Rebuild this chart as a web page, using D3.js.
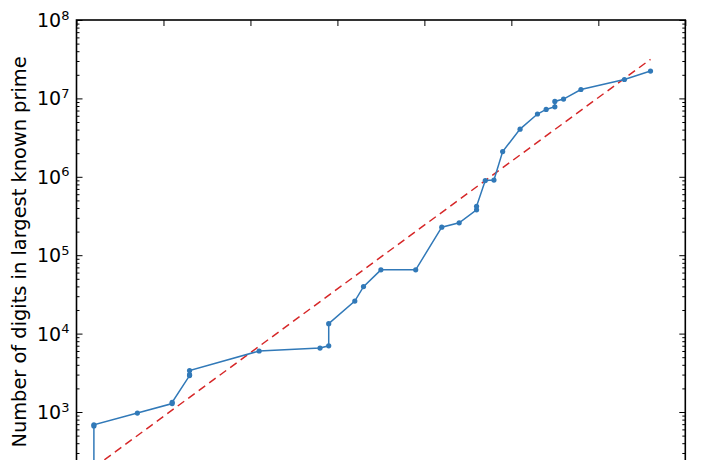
<!DOCTYPE html>
<html>
<head>
<meta charset="utf-8">
<script src="https://cdn.jsdelivr.net/npm/d3@7"></script>
<style>
html,body{margin:0;padding:0;background:#fff;overflow:hidden;}
svg{display:block;}
text{font-family:"DejaVu Sans",sans-serif;}
</style>
</head>
<body>
<script>
// Year of each record and number of digits of the largest known prime
const years = [1952,1952,1952,1952,1957,1961,1961,1963,1963,1963,1971,1978,1979,1979,
  1982,1983,1985,1989,1992,1994,1996,1996,1997,1998,1999,2001,2003,2004,2005,2005,2006,2008,2013,2016];
const digits = [157,183,664,687,969,1281,1332,2917,2993,3376,6002,6533,6987,13395,
  25962,39751,65050,65087,227832,258716,378632,420921,895932,909526,2098960,4053946,6320430,
  7235733,7816230,9152052,9808358,12978189,17425170,22338618];
// Exponential trend line (end points)
const fitYears = [1952, 2016];
const fitDigits = [196, 31500000];
const xTicks = [1950,1960,1970,1980,1990,2000,2010,2020];
const yMajor = [1e2,1e3,1e4,1e5,1e6,1e7,1e8];
const yLabels = [1e3,1e4,1e5,1e6,1e7,1e8];
const yLabel = "Number of digits in largest known prime";

(function(){
const W = 720, H = 460;
const mL = 76.5, mR = 685.3, mT = 20, mB = 490.4;

const svg = d3.select("body").append("svg").attr("width", W).attr("height", H);

const x = d3.scaleLinear().domain([1950, 2020]).range([mL, mR]);
const y = d3.scaleLog().domain([1e2, 1e8]).range([mB, mT]);

svg.append("defs").append("clipPath").attr("id","clip")
  .append("rect").attr("x",mL).attr("y",mT).attr("width",mR-mL).attr("height",mB-mT);

const yMinor = [];
for (let e = 2; e < 8; e++) for (let m = 2; m <= 9; m++) yMinor.push(m * Math.pow(10, e));

const g = svg.append("g");
const axL = d3.axisLeft(y).tickValues(yMajor).tickSize(-6).tickFormat("");
const axLm = d3.axisLeft(y).tickValues(yMinor).tickSize(-3).tickFormat("");
const axR = d3.axisRight(y).tickValues(yMajor).tickSize(-6).tickFormat("");
const axRm = d3.axisRight(y).tickValues(yMinor).tickSize(-3).tickFormat("");
const axT = d3.axisTop(x).tickValues(xTicks).tickSize(-6).tickFormat("");
[[axL,`translate(${mL},0)`],[axLm,`translate(${mL},0)`],[axR,`translate(${mR},0)`],
 [axRm,`translate(${mR},0)`],[axT,`translate(0,${mT})`]]
 .forEach(([a,t]) => {
   const gg = g.append("g").attr("transform", t).call(a);
   gg.select(".domain").remove();
   gg.selectAll("line").attr("stroke","#000").attr("stroke-width",1);
 });

const lab = svg.append("g");
yLabels.forEach(v => {
  const e = Math.round(Math.log10(v));
  const t = lab.append("text").attr("x", mL - 7).attr("y", y(v) + 7)
    .attr("text-anchor","end").attr("font-size", 19).attr("fill","#000");
  t.append("tspan").text("10");
  t.append("tspan").attr("font-size", 13).attr("dy", -7.5).text(String(e));
});

svg.append("text")
  .attr("transform", `translate(25.5,252) rotate(-90)`)
  .attr("text-anchor","middle").attr("font-size", 19.4).attr("fill","#000")
  .text(yLabel);

const plot = svg.append("g").attr("clip-path","url(#clip)");

const fit = fitYears.map((yr,i) => [yr, fitDigits[i]]);
plot.append("path").datum(fit)
  .attr("d", d3.line().x(d => x(d[0])).y(d => y(d[1])))
  .attr("fill","none").attr("stroke","#d62728").attr("stroke-width",1.5)
  .attr("stroke-dasharray","8,5");

const pts = years.map((yr,i) => [yr, digits[i]]);
plot.append("path").datum(pts)
  .attr("d", d3.line().x(d => x(d[0])).y(d => y(d[1])))
  .attr("fill","none").attr("stroke","#3179b8").attr("stroke-width",1.5);
plot.selectAll("circle").data(pts).enter().append("circle")
  .attr("cx", d => x(d[0])).attr("cy", d => y(d[1])).attr("r", 2.6)
  .attr("fill","#3179b8");

svg.append("rect").attr("x",mL).attr("y",mT).attr("width",mR-mL).attr("height",mB-mT)
  .attr("fill","none").attr("stroke","#000").attr("stroke-width",1.6);
})();
</script>
</body>
</html>
